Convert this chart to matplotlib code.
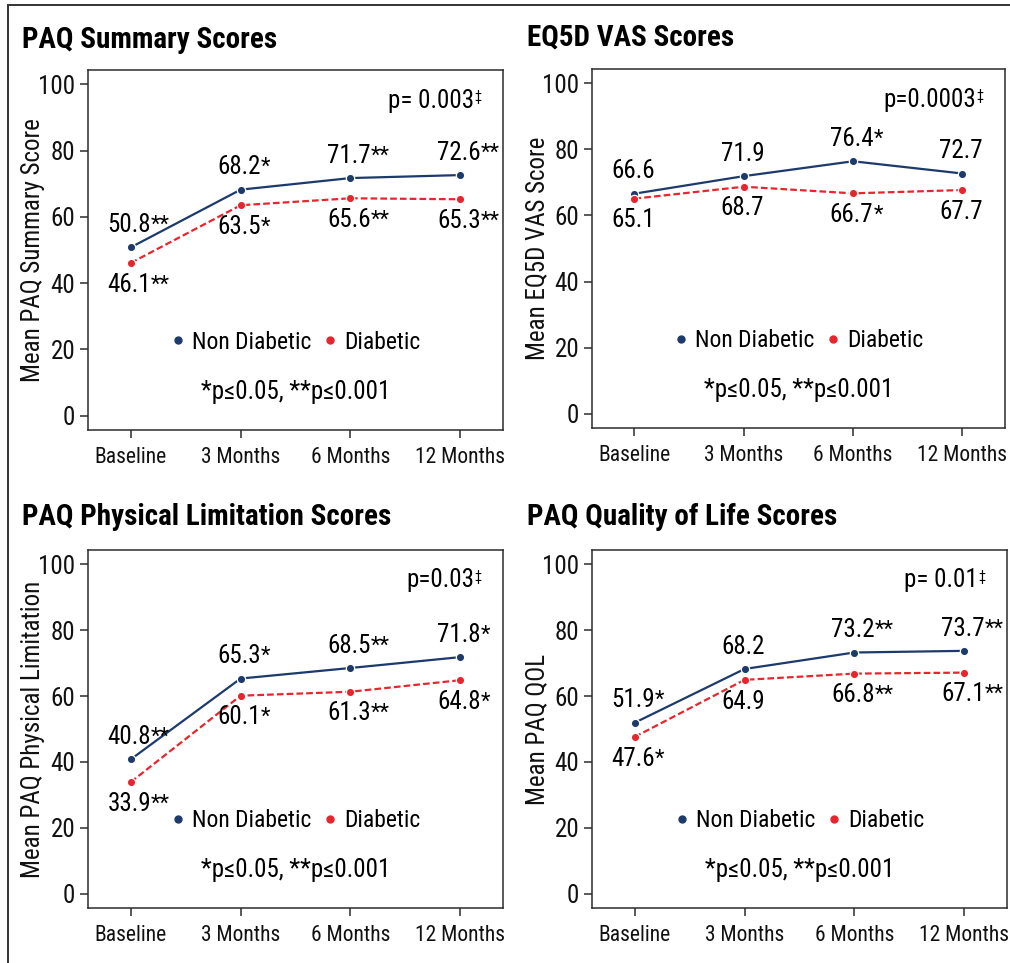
import numpy as np
import matplotlib
matplotlib.use('Agg')
import matplotlib.pyplot as plt
from matplotlib import font_manager
from matplotlib.lines import Line2D
from matplotlib.patches import Rectangle

#%% data

timepoints = ['Baseline', '3 Months', '6 Months', '12 Months']

titles = ['PAQ Summary Scores', 'EQ5D VAS Scores',
          'PAQ Physical Limitation Scores', 'PAQ Quality of Life Scores']
ylabels = ['Mean PAQ Summary Score', 'Mean EQ5D VAS Score',
           'Mean PAQ Physical Limitation', 'Mean PAQ QOL']
pvalues = ['p= 0.003', 'p=0.0003', 'p=0.03', 'p= 0.01']

summary_nd = [50.8, 68.2, 71.7, 72.6]
summary_nd_sig = ['**', '*', '**', '**']
summary_d = [46.1, 63.5, 65.6, 65.3]
summary_d_sig = ['**', '*', '**', '**']

eq5d_nd = [66.6, 71.9, 76.4, 72.7]
eq5d_nd_sig = ['', '', '*', '']
eq5d_d = [65.1, 68.7, 66.7, 67.7]
eq5d_d_sig = ['', '', '*', '']

physical_nd = [40.8, 65.3, 68.5, 71.8]
physical_nd_sig = ['**', '*', '**', '*']
physical_d = [33.9, 60.1, 61.3, 64.8]
physical_d_sig = ['**', '*', '**', '*']

qol_nd = [51.9, 68.2, 73.2, 73.7]
qol_nd_sig = ['*', '', '**', '**']
qol_d = [47.6, 64.9, 66.8, 67.1]
qol_d_sig = ['*', '', '**', '**']

series = [(summary_nd, summary_nd_sig, summary_d, summary_d_sig),
          (eq5d_nd, eq5d_nd_sig, eq5d_d, eq5d_d_sig),
          (physical_nd, physical_nd_sig, physical_d, physical_d_sig),
          (qol_nd, qol_nd_sig, qol_d, qol_d_sig)]

#%% style

NAVY = '#1d3a6c'
RED = '#e8252c'
EDGE = '#2b2b2b'

# pick a narrow face if one is around
names = {f.name for f in font_manager.fontManager.ttflist}
stretch = 'normal'
family = 'Liberation Sans'
for cand in ['Roboto Condensed', 'Liberation Sans Narrow', 'Open Sans Condensed']:
    if cand in names:
        family = cand
        break
else:
    if any(f.name == 'DejaVu Sans' and f.stretch == 'condensed' for f in font_manager.fontManager.ttflist):
        family, stretch = 'DejaVu Sans', 'condensed'

plt.rcParams['font.family'] = [family, 'DejaVu Sans']
plt.rcParams['font.stretch'] = stretch

FS = 18      # value labels, footnotes
FS_LEG = 17
FS_TICK = 18
FS_XTICK = 15.5

#%% layout (figure fractions)

boxes = [(0.0871, 0.5535, 0.411, 0.3738),
         (0.586, 0.5555, 0.409, 0.3728),
         (0.0871, 0.0571, 0.411, 0.3718),
         (0.586, 0.0571, 0.411, 0.3718)]
title_pos = [(22, 48), (527, 45), (22, 525), (527, 525)]


def value_label(ax, x, y, sig, above):
    off = 11 if above else -7
    t = ax.annotate('%.1f' % y, (x, y), xytext=(-1, off), textcoords='offset points',
                    ha='center', va='baseline' if above else 'top', fontsize=FS)
    if sig:
        ax.annotate(sig, xy=(1, 0.05), xycoords=t, ha='left', va='bottom', fontsize=FS - 2)


fig = plt.figure(figsize=(10.1, 9.63), dpi=100)

xs = np.arange(len(timepoints))

for i in range(4):
    nd, nd_sig, d, d_sig = series[i]
    ax = fig.add_axes(boxes[i])

    ax.plot(xs, nd, color=NAVY, lw=1.6, marker='o', ms=6,
            mfc=NAVY, mec='white', mew=0.9, zorder=3)
    ax.plot(xs, d, color=RED, lw=1.6, ls=(0, (3, 1.4)), marker='o', ms=6,
            mfc=RED, mec='white', mew=0.9, zorder=3)

    for j in range(len(xs)):
        value_label(ax, xs[j], nd[j], nd_sig[j], True)
        value_label(ax, xs[j], d[j], d_sig[j], False)

    ax.set_xlim(-0.39, 3.39)
    ax.set_ylim(-4.3, 104.3)
    ax.set_yticks(range(0, 101, 20))
    ax.set_xticks(xs)
    ax.set_xticklabels(timepoints)
    ax.tick_params(direction='out', length=6, width=1.1, color=EDGE,
                   labelcolor='#111111')
    ax.tick_params(axis='x', pad=6, labelsize=FS_XTICK)
    ax.tick_params(axis='y', pad=3, labelsize=FS_TICK)
    for s in ax.spines.values():
        s.set_color(EDGE)
        s.set_linewidth(1.1)

    ax.set_ylabel(ylabels[i], fontsize=18, color='#111111')
    ax.yaxis.set_label_coords(-0.104, 0.5)

    # overall p value with double dagger
    pt = ax.text(0.93, 0.915, pvalues[i], transform=ax.transAxes,
                 ha='right', va='center', fontsize=FS)
    ax.annotate('\u2021', xy=(1, 0.95), xycoords=pt, ha='left', va='top', fontsize=10)

    handles = [Line2D([], [], ls='none', marker='o', ms=5, color=NAVY),
               Line2D([], [], ls='none', marker='o', ms=5, color=RED)]
    ax.legend(handles, ['Non Diabetic', 'Diabetic'], loc='center',
              bbox_to_anchor=(0.5, 0.244), ncol=2, frameon=False, fontsize=FS_LEG,
              handlelength=0.6, handletextpad=0.3, columnspacing=0.5,
              borderpad=0, borderaxespad=0)

    ax.text(0.5, 0.106, '*p\u22640.05, **p\u22640.001', transform=ax.transAxes,
            ha='center', va='center', fontsize=FS)

    tx, ty = title_pos[i]
    fig.text(tx / 1010, 1 - ty / 963, titles[i], fontsize=21, fontweight='bold',
             ha='left', va='baseline')

# outer frame
fig.add_artist(Rectangle((8 / 1010, -0.02), 1.05, 1.02 - 5 / 963,
                         transform=fig.transFigure, fill=False,
                         ec='#333333', lw=1.4, clip_on=False))

fig.savefig('out.png', dpi=100)
